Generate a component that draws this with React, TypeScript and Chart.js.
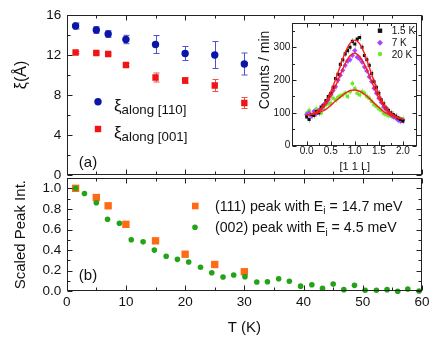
import React, { useEffect, useRef } from 'react';
import { Chart, registerables } from 'chart.js';
Chart.register(...registerables);

const FONT = '"Liberation Sans", Arial, Helvetica, sans-serif';

// ---------- panel (a): correlation lengths ----------
const topTemps = [1.5, 5, 7, 10, 15, 20, 25, 30];
const xi110 = [14.9, 14.5, 14.1, 13.55, 13.05, 12.15, 12.0, 11.1];
const xi110Err = [0.3, 0.33, 0.33, 0.42, 0.9, 0.7, 1.35, 1.1];
const xi001 = [12.25, 12.2, 12.1, 11.0, 9.75, 9.45, 8.95, 7.2];
const xi001Err = [0.12, 0.12, 0.12, 0.15, 0.45, 0.28, 0.6, 0.55];

// ---------- panel (b): scaled peak intensity ----------
const temps111 = [1.5, 5, 7, 10, 15, 20, 25, 30];
const peak111 = [1.0, 0.91, 0.83, 0.65, 0.49, 0.36, 0.26, 0.19];
const temps002 = [1.5, 3.0, 5.0, 6.9, 8.9, 10.9, 12.9, 14.8, 16.8, 18.7, 20.6, 22.6, 24.5, 26.4, 28.2, 30.1, 32.1, 33.9, 35.8, 37.6, 39.5, 41.4, 43.2, 45.0, 46.8, 48.6, 50.4, 52.3, 54.1, 55.9, 57.6, 59.5];
const peak002 = [1.0, 0.95, 0.86, 0.70, 0.66, 0.50, 0.48, 0.40, 0.34, 0.31, 0.285, 0.233, 0.18, 0.139, 0.158, 0.142, 0.09, 0.093, 0.122, 0.097, 0.05, 0.064, 0.029, 0.07, 0.016, 0.058, 0.01, 0.01, 0.016, 0.0, 0.022, 0.003];

// ---------- inset: [1 1 L] scans ----------
const scanL = [0.00, 0.05, 0.10, 0.15, 0.20, 0.25, 0.30, 0.35, 0.40, 0.45, 0.50, 0.55, 0.60, 0.65, 0.70, 0.75, 0.80, 0.85, 0.90, 0.95, 1.00, 1.05, 1.10, 1.15, 1.20, 1.25, 1.30, 1.35, 1.40, 1.45, 1.50, 1.55, 1.60, 1.65, 1.70, 1.75, 1.80, 1.85, 1.90, 1.95, 2.00];
const counts15K = [88, 80, 95, 92, 104, 100, 118, 122, 138, 150, 160, 178, 205, 218, 248, 262, 280, 290, 300, 318, 310, 325, 330, 300, 275, 262, 245, 220, 195, 178, 160, 140, 128, 115, 108, 100, 95, 90, 85, 80, 75];
const counts7K = [95, 100, 90, 105, 98, 108, 112, 125, 130, 140, 155, 168, 180, 200, 215, 230, 245, 258, 262, 275, 290, 270, 265, 255, 240, 228, 210, 195, 175, 160, 145, 132, 118, 110, 100, 95, 88, 85, 78, 75, 78];
const counts20K = [100, 108, 95, 100, 112, 105, 100, 115, 125, 128, 130, 145, 140, 148, 152, 155, 160, 150, 165, 190, 175, 160, 155, 165, 160, 150, 145, 135, 125, 120, 112, 108, 98, 95, 92, 90, 88, 85, 83, 80, 82];
const countErr = 10;
const fitL = [0.0, 0.1, 0.2, 0.3, 0.4, 0.5, 0.6, 0.7, 0.8, 0.9, 1.0, 1.1, 1.2, 1.3, 1.4, 1.5, 1.6, 1.7, 1.8, 1.9, 2.0];
const fit15K = [94, 97, 103, 115, 135, 164, 202, 244, 284, 312, 322, 311, 281, 240, 197, 158, 128, 107, 94, 86, 82];
const fit7K = [94, 96, 101, 111, 127, 151, 182, 217, 250, 274, 282, 272, 248, 214, 178, 145, 120, 102, 92, 85, 82];
const fit20K = [94, 96, 99, 104, 111, 123, 136, 148, 160, 168, 170, 166, 157, 145, 130, 117, 104, 96, 89, 85, 82];

// ---------- axes ticks ----------
const mainXTicks = [0, 10, 20, 30, 40, 50, 60];
const mainXMinor = [5, 15, 25, 35, 45, 55];
const topYTicks = [0, 4, 8, 12, 16];
const topYMinor = [2, 6, 10, 14];
const botYTicks = [0, 0.2, 0.4, 0.6, 0.8, 1.0];
const botYMinor = [0.1, 0.3, 0.5, 0.7, 0.9];
const insetXTicks = [0, 0.5, 1, 1.5, 2];
const insetXMinor = [0.25, 0.75, 1.25, 1.75];
const insetYTicks = [0, 100, 200, 300];
const insetYMinor = [50, 150, 250, 350];

const pts = (xs: number[], ys: number[]) => xs.map((x, i) => ({ x, y: ys[i] }));

const errorBarPlugin = {
  id: 'errorBars',
  beforeDatasetsDraw(chart: any) {
    const { ctx } = chart;
    chart.data.datasets.forEach((ds: any, i: number) => {
      if (ds.errors === undefined) return;
      const meta = chart.getDatasetMeta(i);
      const ys = chart.scales[meta.yAxisID];
      ctx.save();
      ctx.strokeStyle = ds.errorColor;
      ctx.lineWidth = 1;
      meta.data.forEach((el: any, j: number) => {
        const e = Array.isArray(ds.errors) ? ds.errors[j] : ds.errors;
        if (!e) return;
        const v = ds.data[j].y;
        const y1 = ys.getPixelForValue(v + e);
        const y2 = ys.getPixelForValue(v - e);
        const x = Math.round(el.x) + 0.5;
        const c = ds.capWidth || 0;
        ctx.beginPath();
        ctx.moveTo(x, y1);
        ctx.lineTo(x, y2);
        if (c) {
          ctx.moveTo(x - c, y1); ctx.lineTo(x + c, y1);
          ctx.moveTo(x - c, y2); ctx.lineTo(x + c, y2);
        }
        ctx.stroke();
      });
      ctx.restore();
    });
  },
};

const framePlugin = {
  id: 'frameTicks',
  afterDatasetsDraw(chart: any, _a: any, o: any) {
    const { ctx, chartArea: a, scales } = chart;
    const L = Math.round(a.left) + 0.5, R = Math.round(a.right) - 0.5;
    const T = Math.round(a.top) + 0.5, B = Math.round(a.bottom) - 0.5;
    ctx.save();
    ctx.strokeStyle = '#222';
    ctx.lineWidth = 1;
    ctx.strokeRect(L, T, R - L, B - T);
    ctx.beginPath();
    const xt = (vals: number[], len: number) => vals.forEach((v) => {
      const p = Math.round(scales.x.getPixelForValue(v)) + 0.5;
      ctx.moveTo(p, B); ctx.lineTo(p, B - len);
      ctx.moveTo(p, T); ctx.lineTo(p, T + len);
    });
    const yt = (vals: number[], len: number) => vals.forEach((v) => {
      const p = Math.round(scales.y.getPixelForValue(v)) + 0.5;
      ctx.moveTo(L, p); ctx.lineTo(L + len, p);
      ctx.moveTo(R, p); ctx.lineTo(R - len, p);
    });
    xt(o.xMajor, o.major); xt(o.xMinor, o.minor);
    yt(o.yMajor, o.major); yt(o.yMinor, o.minor);
    ctx.stroke();
    ctx.restore();
  },
};

function drawMarker(ctx: CanvasRenderingContext2D, shape: string, x: number, y: number, s: number, color: string) {
  ctx.fillStyle = color;
  ctx.beginPath();
  if (shape === 'circle') ctx.arc(x, y, s, 0, Math.PI * 2);
  else if (shape === 'rect') ctx.rect(x - s, y - s, 2 * s, 2 * s);
  else { ctx.moveTo(x, y - s); ctx.lineTo(x + s, y); ctx.lineTo(x, y + s); ctx.lineTo(x - s, y); ctx.closePath(); }
  ctx.fill();
}

const overlayPlugin = {
  id: 'overlay',
  afterDraw(chart: any, _a: any, o: any) {
    const ctx = chart.ctx;
    ctx.save();
    (o.keys || []).forEach((k: any) => {
      drawMarker(ctx, k.shape, k.mx, k.my, k.size, k.color);
      let x = k.tx;
      k.segs.forEach((s: any) => {
        ctx.font = `${s.size}px ${FONT}`;
        ctx.fillStyle = '#111';
        ctx.textAlign = 'left';
        ctx.textBaseline = 'alphabetic';
        ctx.fillText(s.t, x, k.by + (s.dy || 0));
        x += ctx.measureText(s.t).width;
      });
    });
    (o.texts || []).forEach((t: any) => {
      ctx.save();
      ctx.translate(t.x, t.y);
      if (t.rot) ctx.rotate(t.rot);
      ctx.font = `${t.size}px ${FONT}`;
      ctx.fillStyle = '#111';
      ctx.textAlign = 'center';
      ctx.textBaseline = 'middle';
      ctx.fillText(t.text, 0, 0);
      ctx.restore();
    });
    ctx.restore();
  },
};

const tickFont = (size: number) => ({ size, family: FONT });
const setTicks = (vals: number[]) => (s: any) => { s.ticks = vals.map((v) => ({ value: v })); };
const base = (pad: any) => ({
  responsive: false,
  animation: false as const,
  events: [] as any[],
  layout: { padding: pad },
});

export default function App() {
  const c1 = useRef<HTMLCanvasElement>(null);
  const c2 = useRef<HTMLCanvasElement>(null);
  const c3 = useRef<HTMLCanvasElement>(null);

  useEffect(() => {
    const plugins = [errorBarPlugin, framePlugin, overlayPlugin];
    const top = new Chart(c1.current!, {
      type: 'scatter',
      data: {
        datasets: [
          { data: pts(topTemps, xi110), errors: xi110Err, errorColor: '#5050d8', capWidth: 3, pointStyle: 'circle', pointRadius: 3.7, backgroundColor: '#0a16a6', borderWidth: 0 } as any,
          { data: pts(topTemps, xi001), errors: xi001Err, errorColor: '#f05050', capWidth: 3, pointStyle: 'rect', pointRadius: 4.5, backgroundColor: '#f01414', borderWidth: 0 } as any,
        ],
      },
      options: {
        ...base({ left: 0, right: 14, top: 15, bottom: 163 }),
        plugins: {
          legend: { display: false }, tooltip: { enabled: false },
          frameTicks: { xMajor: mainXTicks, xMinor: mainXMinor, yMajor: topYTicks, yMinor: topYMinor, major: 5, minor: 3 },
          overlay: {
            keys: [
              { shape: 'circle', mx: 98, my: 101.7, size: 3.7, color: '#0a16a6', tx: 114, by: 111, segs: [{ t: 'ξ', size: 17 }, { t: 'along [110]', size: 13.3, dy: 3 }] },
              { shape: 'rect', mx: 98, my: 129, size: 3.2, color: '#f01414', tx: 114, by: 138.3, segs: [{ t: 'ξ', size: 17 }, { t: 'along [001]', size: 13.3, dy: 3 }] },
            ],
            texts: [
              { text: 'ξ(Å)', x: 22, y: 75, size: 16, rot: -Math.PI / 2 },
              { text: '(a)', x: 88, y: 162.7, size: 15 },
            ],
          },
        } as any,
        scales: {
          x: { type: 'linear', min: 0, max: 60, display: false },
          y: {
            type: 'linear', min: 0, max: 16,
            afterFit: (s: any) => { s.width = 66.7; },
            afterBuildTicks: setTicks(topYTicks),
            grid: { display: false, drawTicks: false }, border: { display: false },
            ticks: { padding: 5.5, font: tickFont(13.5), color: '#111' },
          },
        },
      },
      plugins,
    });

    const bottom = new Chart(c2.current!, {
      type: 'scatter',
      data: {
        datasets: [
          { data: pts(temps002, peak002), pointStyle: 'circle', pointRadius: 2.8, backgroundColor: '#22a416', borderWidth: 0, clip: false } as any,
          { data: pts(temps111, peak111), pointStyle: 'rect', pointRadius: 5.2, backgroundColor: '#ff6a14', borderWidth: 0, clip: false } as any,
        ],
      },
      options: {
        ...base({ left: 0, right: 14, top: 178, bottom: 0 }),
        plugins: {
          legend: { display: false }, tooltip: { enabled: false },
          frameTicks: { xMajor: mainXTicks, xMinor: mainXMinor, yMajor: botYTicks, yMinor: botYMinor, major: 5, minor: 3 },
          overlay: {
            keys: [
              { shape: 'rect', mx: 195.3, my: 206, size: 3.3, color: '#ff6a14', tx: 215, by: 210.9, segs: [{ t: '(111) peak with E', size: 14.2 }, { t: 'i', size: 10, dy: 3.5 }, { t: ' = 14.7 meV', size: 14.2 }] },
              { shape: 'circle', mx: 195, my: 227.3, size: 2.8, color: '#22a416', tx: 215, by: 232.2, segs: [{ t: '(002) peak with E', size: 14.2 }, { t: 'i', size: 10, dy: 3.5 }, { t: ' = 4.5 meV', size: 14.2 }] },
            ],
            texts: [{ text: '(b)', x: 88, y: 276, size: 15 }],
          },
        } as any,
        scales: {
          x: {
            type: 'linear', min: 0, max: 60,
            afterFit: (s: any) => { s.height = 46.7; },
            afterBuildTicks: setTicks(mainXTicks),
            grid: { display: false, drawTicks: false }, border: { display: false },
            ticks: { padding: 3, font: tickFont(13.5), color: '#111' },
            title: { display: true, text: 'T (K)', font: { size: 15, family: FONT }, color: '#111', padding: { top: 0, bottom: 1 } },
          },
          y: {
            type: 'linear', min: 0, max: 1.1,
            afterFit: (s: any) => { s.width = 66.7; },
            afterBuildTicks: setTicks(botYTicks),
            grid: { display: false, drawTicks: false }, border: { display: false },
            ticks: { padding: 5.5, font: tickFont(13.5), color: '#111', callback: (v: any) => Number(v).toFixed(1) },
            title: { display: true, text: 'Scaled Peak Int.', font: { size: 15, family: FONT }, color: '#111', padding: { top: 12, bottom: 0 } },
          },
        },
      },
      plugins,
    });

    const fitStyle = { showLine: true, pointRadius: 0, borderColor: '#ff1a1a', borderWidth: 1.4, cubicInterpolationMode: 'monotone', fill: false };
    const inset = new Chart(c3.current!, {
      type: 'scatter',
      data: {
        datasets: [
          { data: pts(fitL, fit15K), ...fitStyle } as any,
          { data: pts(fitL, fit7K), ...fitStyle } as any,
          { data: pts(fitL, fit20K), ...fitStyle } as any,
          { data: pts(scanL, counts15K), errors: countErr, errorColor: '#b8b8b8', pointStyle: 'rect', pointRadius: 2.2, backgroundColor: '#111', borderWidth: 0 } as any,
          { data: pts(scanL, counts7K), errors: countErr, errorColor: '#dcb8ff', pointStyle: 'rectRot', pointRadius: 2.6, backgroundColor: '#a646ff', borderWidth: 0 } as any,
          { data: pts(scanL, counts20K), errors: countErr, errorColor: '#c4f5a8', pointStyle: 'circle', pointRadius: 1.9, backgroundColor: '#6ee82a', borderWidth: 0 } as any,
        ],
      },
      options: {
        ...base({ left: 250, right: 18.7, top: 22.7, bottom: 163 }),
        plugins: {
          legend: { display: false }, tooltip: { enabled: false },
          frameTicks: { xMajor: insetXTicks, xMinor: insetXMinor, yMajor: insetYTicks, yMinor: insetYMinor, major: 4, minor: 2.5 },
          overlay: {
            keys: [
              { shape: 'rect', mx: 380, my: 30.7, size: 2.2, color: '#111', tx: 391.7, by: 34.4, segs: [{ t: '1.5 K', size: 10 }] },
              { shape: 'diamond', mx: 380, my: 42.7, size: 3, color: '#a646ff', tx: 391.7, by: 46.4, segs: [{ t: '7 K', size: 10 }] },
              { shape: 'circle', mx: 380, my: 54, size: 2.2, color: '#6ee82a', tx: 391.7, by: 57.7, segs: [{ t: '20 K', size: 10 }] },
            ],
            texts: [{ text: 'Counts / min', x: 265, y: 70, size: 14, rot: -Math.PI / 2 }],
          },
        } as any,
        scales: {
          x: {
            type: 'linear', min: -0.3, max: 2.3,
            afterFit: (s: any) => { s.height = 29.3; },
            afterBuildTicks: setTicks(insetXTicks),
            grid: { display: false, drawTicks: false }, border: { display: false },
            ticks: { padding: 0, font: tickFont(10), color: '#111', callback: (v: any) => Number(v).toFixed(1) },
            title: { display: true, text: '[1 1 L]', font: { size: 11, family: FONT }, color: '#111', padding: { top: 0, bottom: 1.7 } },
          },
          y: {
            type: 'linear', min: 0, max: 375,
            afterFit: (s: any) => { s.width = 42.3; },
            afterBuildTicks: setTicks(insetYTicks),
            grid: { display: false, drawTicks: false }, border: { display: false },
            ticks: { padding: 2, font: tickFont(10), color: '#111' },
          },
        },
      },
      plugins,
    });

    return () => { top.destroy(); bottom.destroy(); inset.destroy(); };
  }, []);

  const cs: React.CSSProperties = { position: 'absolute', left: 0, top: 0, width: 436, height: 338 };
  return (
    <div style={{ position: 'absolute', left: 0, top: 0, width: 436, height: 338, background: '#fff' }}>
      <canvas ref={c1} width={436} height={338} style={cs} />
      <canvas ref={c2} width={436} height={338} style={cs} />
      <canvas ref={c3} width={436} height={338} style={cs} />
    </div>
  );
}
